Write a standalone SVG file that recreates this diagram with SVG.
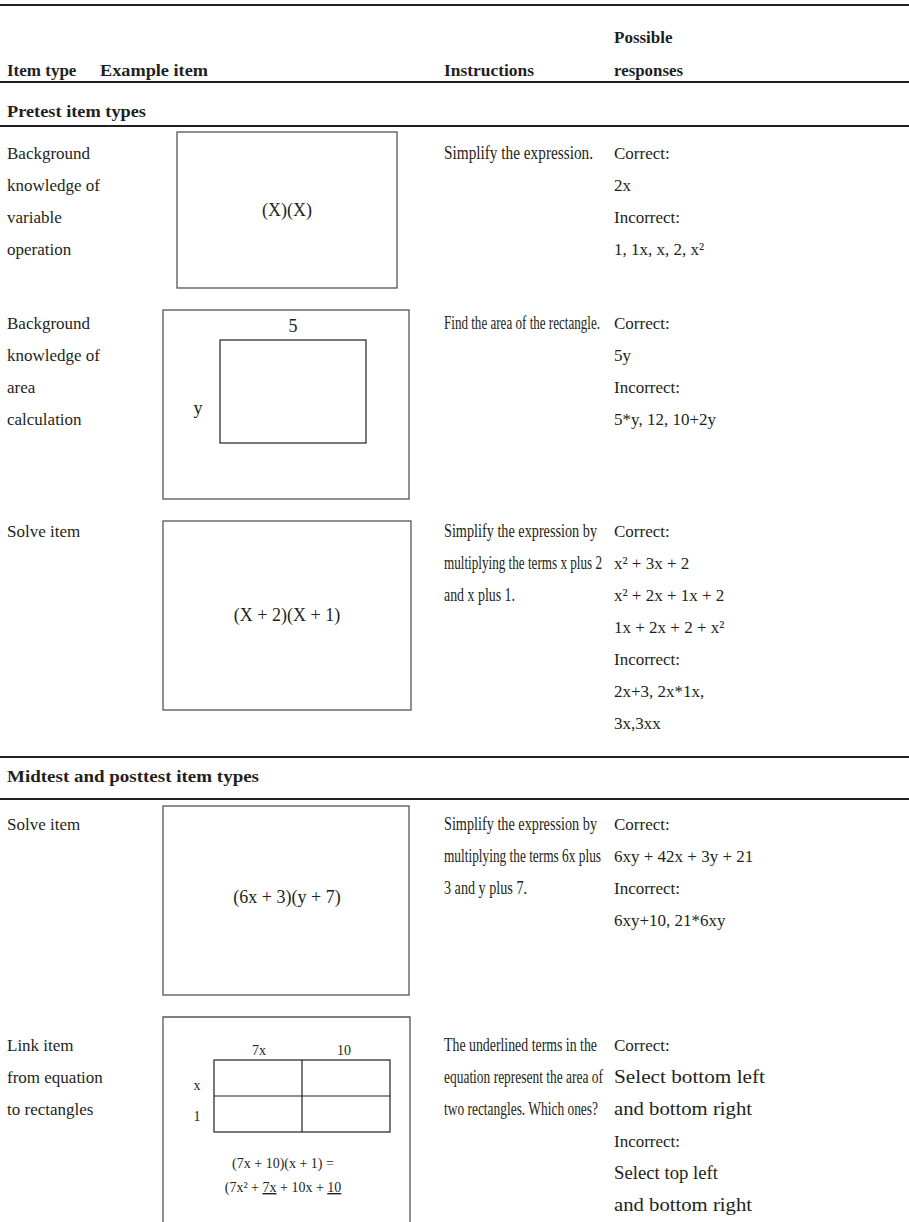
<svg xmlns="http://www.w3.org/2000/svg" width="909" height="1222" viewBox="0 0 909 1222">
<style>
text{font-family:"Liberation Serif","Times New Roman",serif;font-size:17px;fill:#231f20}
.b{font-weight:bold}
.c{text-anchor:middle}
.rule{stroke:#231f20;stroke-width:2.2}
.box{fill:none;stroke:#555;stroke-width:1.3}
.in{fill:none;stroke:#231f20;stroke-width:1.2}
.sm{font-size:14px}
.big{font-size:18px}
.ins{font-size:19px}
.r5{font-size:19px}
</style>
<g id="rules">
<line class="rule" x1="0" y1="5" x2="909" y2="5"/>
<line class="rule" x1="0" y1="82" x2="909" y2="82"/>
<line class="rule" x1="0" y1="126" x2="909" y2="126"/>
<line class="rule" x1="0" y1="757" x2="909" y2="757"/>
<line class="rule" x1="0" y1="799" x2="909" y2="799"/>
</g>
<g id="header">
<text class="b" x="7" y="76">Item type</text>
<text class="b" x="100" y="76" textLength="108" lengthAdjust="spacingAndGlyphs">Example item</text>
<text class="b" x="444" y="76" textLength="90" lengthAdjust="spacingAndGlyphs">Instructions</text>
<text class="b" x="614" y="43">Possible</text>
<text class="b" x="614" y="76" textLength="69" lengthAdjust="spacingAndGlyphs">responses</text>
<text class="b" x="7" y="117" textLength="139" lengthAdjust="spacingAndGlyphs">Pretest item types</text>
<text class="b" x="7" y="782" textLength="252" lengthAdjust="spacingAndGlyphs">Midtest and posttest item types</text>
</g>
<g id="row1">
<text x="7" y="159">Background</text>
<text x="7" y="191">knowledge of</text>
<text x="7" y="223">variable</text>
<text x="7" y="255">operation</text>
<rect class="box" x="177" y="132" width="220" height="156"/>
<text class="c big" x="287" y="216">(X)(X)</text>
<text class="ins" x="444" y="159" textLength="149" lengthAdjust="spacingAndGlyphs">Simplify the expression.</text>
<text x="614" y="159">Correct:</text>
<text x="614" y="191">2x</text>
<text x="614" y="223">Incorrect:</text>
<text x="614" y="255">1, 1x, x, 2, x²</text>
</g>
<g id="row2">
<text x="7" y="329">Background</text>
<text x="7" y="361">knowledge of</text>
<text x="7" y="393">area</text>
<text x="7" y="425">calculation</text>
<rect class="box" x="163" y="310" width="246" height="189"/>
<rect class="in" x="220" y="340" width="146" height="103"/>
<text class="c big" x="293" y="332">5</text>
<text class="c big" x="198" y="414">y</text>
<text class="ins" x="444" y="329" textLength="156" lengthAdjust="spacingAndGlyphs">Find the area of the rectangle.</text>
<text x="614" y="329">Correct:</text>
<text x="614" y="361">5y</text>
<text x="614" y="393">Incorrect:</text>
<text x="614" y="425">5*y, 12, 10+2y</text>
</g>
<g id="row3">
<text x="7" y="537">Solve item</text>
<rect class="box" x="163" y="521" width="248" height="189"/>
<text class="c big" x="287" y="621">(X + 2)(X + 1)</text>
<text class="ins" x="444" y="537" textLength="153" lengthAdjust="spacingAndGlyphs">Simplify the expression by</text>
<text class="ins" x="444" y="569" textLength="158" lengthAdjust="spacingAndGlyphs">multiplying the terms x plus 2</text>
<text class="ins" x="444" y="601" textLength="71" lengthAdjust="spacingAndGlyphs">and x plus 1.</text>
<text x="614" y="537">Correct:</text>
<text x="614" y="569">x² + 3x + 2</text>
<text x="614" y="601">x² + 2x + 1x + 2</text>
<text x="614" y="633">1x + 2x + 2 + x²</text>
<text x="614" y="665">Incorrect:</text>
<text x="614" y="697">2x+3, 2x*1x,</text>
<text x="614" y="729">3x,3xx</text>
</g>
<g id="row4">
<text x="7" y="830">Solve item</text>
<rect class="box" x="163" y="806" width="246" height="189"/>
<text class="c big" x="287" y="903">(6x + 3)(y + 7)</text>
<text class="ins" x="444" y="830" textLength="153" lengthAdjust="spacingAndGlyphs">Simplify the expression by</text>
<text class="ins" x="444" y="862" textLength="157" lengthAdjust="spacingAndGlyphs">multiplying the terms 6x plus</text>
<text class="ins" x="444" y="894" textLength="83" lengthAdjust="spacingAndGlyphs">3 and y plus 7.</text>
<text x="614" y="830">Correct:</text>
<text x="614" y="862">6xy + 42x + 3y + 21</text>
<text x="614" y="894">Incorrect:</text>
<text x="614" y="926">6xy+10, 21*6xy</text>
</g>
<g id="row5">
<text x="7" y="1051">Link item</text>
<text x="7" y="1083">from equation</text>
<text x="7" y="1115">to rectangles</text>
<path class="box" d="M163,1222 V1017 H410 V1222"/>
<rect class="in" x="214" y="1060" width="176" height="72"/>
<line class="in" x1="302" y1="1060" x2="302" y2="1132"/>
<line class="in" x1="214" y1="1096" x2="390" y2="1096"/>
<text class="c sm" x="259" y="1055">7x</text>
<text class="c sm" x="344" y="1055">10</text>
<text class="c sm" x="197" y="1090">x</text>
<text class="c sm" x="197" y="1121">1</text>
<text class="c sm" x="283" y="1168">(7x + 10)(x + 1) =</text>
<text class="c sm" x="283" y="1192">(7x² + <tspan text-decoration="underline">7x</tspan> + 10x + <tspan text-decoration="underline">10</tspan></text>
<text class="ins" x="444" y="1051" textLength="153" lengthAdjust="spacingAndGlyphs">The underlined terms in the</text>
<text class="ins" x="444" y="1083" textLength="159" lengthAdjust="spacingAndGlyphs">equation represent the area of</text>
<text class="ins" x="444" y="1115" textLength="154" lengthAdjust="spacingAndGlyphs">two rectangles. Which ones?</text>
<text x="614" y="1051">Correct:</text>
<text class="r5" x="614" y="1083" textLength="151" lengthAdjust="spacingAndGlyphs">Select bottom left</text>
<text class="r5" x="614" y="1115" textLength="138" lengthAdjust="spacingAndGlyphs">and bottom right</text>
<text x="614" y="1147">Incorrect:</text>
<text class="r5" x="614" y="1179" textLength="104" lengthAdjust="spacingAndGlyphs">Select top left</text>
<text class="r5" x="614" y="1211" textLength="138" lengthAdjust="spacingAndGlyphs">and bottom right</text>
</g>
</svg>
